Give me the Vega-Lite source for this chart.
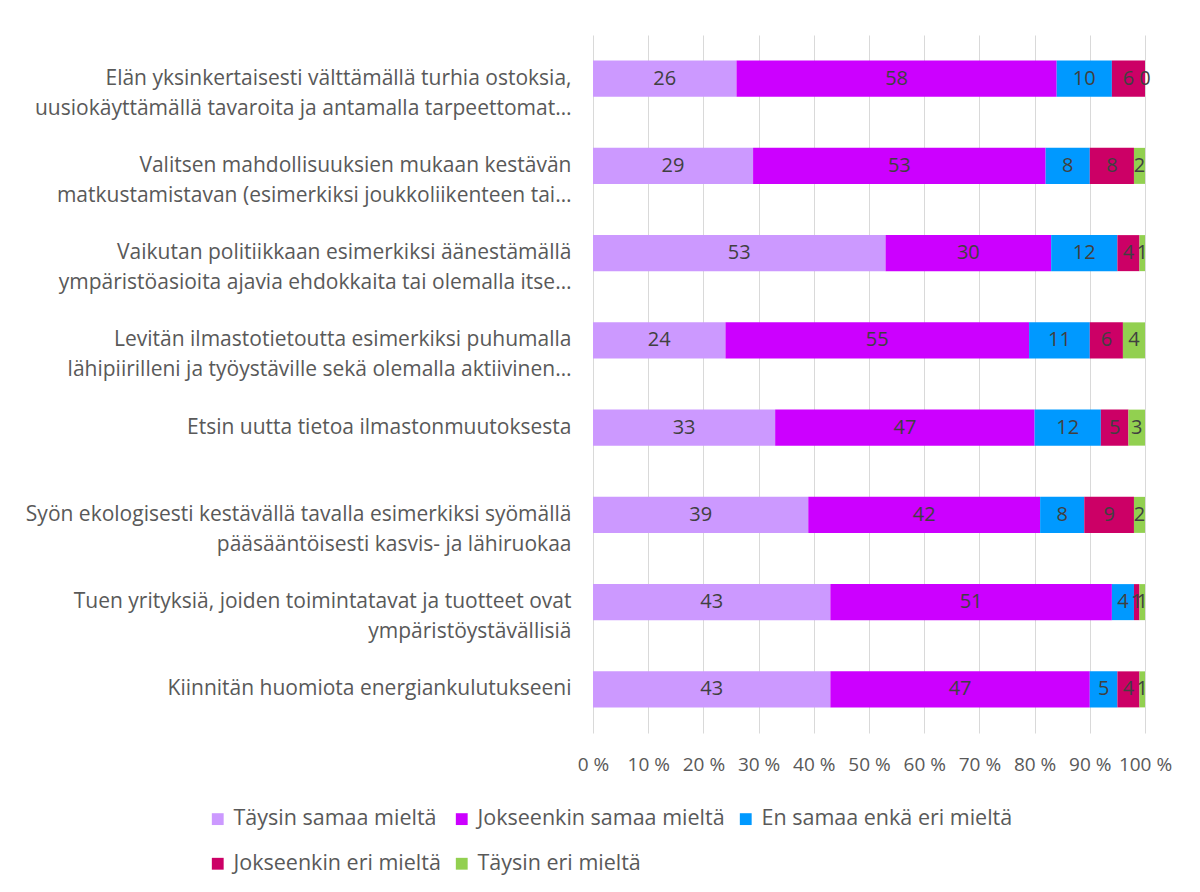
{
  "$schema": "https://vega.github.io/schema/vega-lite/v6.json",
  "width": 552,
  "height": 698,
  "autosize": {"type": "none"},
  "padding": {"left": 593, "top": 35, "right": 55, "bottom": 159},
  "background": "white",
  "config": {
    "font": "Open Sans",
    "view": {"stroke": null}
  },
  "data": {
    "values": [
      {"q": "Elän yksinkertaisesti välttämällä turhia ostoksia,\nuusiokäyttämällä tavaroita ja antamalla tarpeettomat…", "r": "Täysin samaa mieltä", "k": 1, "v": 26},
      {"q": "Elän yksinkertaisesti välttämällä turhia ostoksia,\nuusiokäyttämällä tavaroita ja antamalla tarpeettomat…", "r": "Jokseenkin samaa mieltä", "k": 2, "v": 58},
      {"q": "Elän yksinkertaisesti välttämällä turhia ostoksia,\nuusiokäyttämällä tavaroita ja antamalla tarpeettomat…", "r": "En samaa enkä eri mieltä", "k": 3, "v": 10},
      {"q": "Elän yksinkertaisesti välttämällä turhia ostoksia,\nuusiokäyttämällä tavaroita ja antamalla tarpeettomat…", "r": "Jokseenkin eri mieltä", "k": 4, "v": 6},
      {"q": "Elän yksinkertaisesti välttämällä turhia ostoksia,\nuusiokäyttämällä tavaroita ja antamalla tarpeettomat…", "r": "Täysin eri mieltä", "k": 5, "v": 0},
      {"q": "Valitsen mahdollisuuksien mukaan kestävän\nmatkustamistavan (esimerkiksi joukkoliikenteen tai…", "r": "Täysin samaa mieltä", "k": 1, "v": 29},
      {"q": "Valitsen mahdollisuuksien mukaan kestävän\nmatkustamistavan (esimerkiksi joukkoliikenteen tai…", "r": "Jokseenkin samaa mieltä", "k": 2, "v": 53},
      {"q": "Valitsen mahdollisuuksien mukaan kestävän\nmatkustamistavan (esimerkiksi joukkoliikenteen tai…", "r": "En samaa enkä eri mieltä", "k": 3, "v": 8},
      {"q": "Valitsen mahdollisuuksien mukaan kestävän\nmatkustamistavan (esimerkiksi joukkoliikenteen tai…", "r": "Jokseenkin eri mieltä", "k": 4, "v": 8},
      {"q": "Valitsen mahdollisuuksien mukaan kestävän\nmatkustamistavan (esimerkiksi joukkoliikenteen tai…", "r": "Täysin eri mieltä", "k": 5, "v": 2},
      {"q": "Vaikutan politiikkaan esimerkiksi äänestämällä\nympäristöasioita ajavia ehdokkaita tai olemalla itse…", "r": "Täysin samaa mieltä", "k": 1, "v": 53},
      {"q": "Vaikutan politiikkaan esimerkiksi äänestämällä\nympäristöasioita ajavia ehdokkaita tai olemalla itse…", "r": "Jokseenkin samaa mieltä", "k": 2, "v": 30},
      {"q": "Vaikutan politiikkaan esimerkiksi äänestämällä\nympäristöasioita ajavia ehdokkaita tai olemalla itse…", "r": "En samaa enkä eri mieltä", "k": 3, "v": 12},
      {"q": "Vaikutan politiikkaan esimerkiksi äänestämällä\nympäristöasioita ajavia ehdokkaita tai olemalla itse…", "r": "Jokseenkin eri mieltä", "k": 4, "v": 4},
      {"q": "Vaikutan politiikkaan esimerkiksi äänestämällä\nympäristöasioita ajavia ehdokkaita tai olemalla itse…", "r": "Täysin eri mieltä", "k": 5, "v": 1},
      {"q": "Levitän ilmastotietoutta esimerkiksi puhumalla\nlähipiirilleni ja työystäville sekä olemalla aktiivinen…", "r": "Täysin samaa mieltä", "k": 1, "v": 24},
      {"q": "Levitän ilmastotietoutta esimerkiksi puhumalla\nlähipiirilleni ja työystäville sekä olemalla aktiivinen…", "r": "Jokseenkin samaa mieltä", "k": 2, "v": 55},
      {"q": "Levitän ilmastotietoutta esimerkiksi puhumalla\nlähipiirilleni ja työystäville sekä olemalla aktiivinen…", "r": "En samaa enkä eri mieltä", "k": 3, "v": 11},
      {"q": "Levitän ilmastotietoutta esimerkiksi puhumalla\nlähipiirilleni ja työystäville sekä olemalla aktiivinen…", "r": "Jokseenkin eri mieltä", "k": 4, "v": 6},
      {"q": "Levitän ilmastotietoutta esimerkiksi puhumalla\nlähipiirilleni ja työystäville sekä olemalla aktiivinen…", "r": "Täysin eri mieltä", "k": 5, "v": 4},
      {"q": "Etsin uutta tietoa ilmastonmuutoksesta", "r": "Täysin samaa mieltä", "k": 1, "v": 33},
      {"q": "Etsin uutta tietoa ilmastonmuutoksesta", "r": "Jokseenkin samaa mieltä", "k": 2, "v": 47},
      {"q": "Etsin uutta tietoa ilmastonmuutoksesta", "r": "En samaa enkä eri mieltä", "k": 3, "v": 12},
      {"q": "Etsin uutta tietoa ilmastonmuutoksesta", "r": "Jokseenkin eri mieltä", "k": 4, "v": 5},
      {"q": "Etsin uutta tietoa ilmastonmuutoksesta", "r": "Täysin eri mieltä", "k": 5, "v": 3},
      {"q": "Syön ekologisesti kestävällä tavalla esimerkiksi syömällä\npääsääntöisesti kasvis- ja lähiruokaa", "r": "Täysin samaa mieltä", "k": 1, "v": 39},
      {"q": "Syön ekologisesti kestävällä tavalla esimerkiksi syömällä\npääsääntöisesti kasvis- ja lähiruokaa", "r": "Jokseenkin samaa mieltä", "k": 2, "v": 42},
      {"q": "Syön ekologisesti kestävällä tavalla esimerkiksi syömällä\npääsääntöisesti kasvis- ja lähiruokaa", "r": "En samaa enkä eri mieltä", "k": 3, "v": 8},
      {"q": "Syön ekologisesti kestävällä tavalla esimerkiksi syömällä\npääsääntöisesti kasvis- ja lähiruokaa", "r": "Jokseenkin eri mieltä", "k": 4, "v": 9},
      {"q": "Syön ekologisesti kestävällä tavalla esimerkiksi syömällä\npääsääntöisesti kasvis- ja lähiruokaa", "r": "Täysin eri mieltä", "k": 5, "v": 2},
      {"q": "Tuen yrityksiä, joiden toimintatavat ja tuotteet ovat\nympäristöystävällisiä", "r": "Täysin samaa mieltä", "k": 1, "v": 43},
      {"q": "Tuen yrityksiä, joiden toimintatavat ja tuotteet ovat\nympäristöystävällisiä", "r": "Jokseenkin samaa mieltä", "k": 2, "v": 51},
      {"q": "Tuen yrityksiä, joiden toimintatavat ja tuotteet ovat\nympäristöystävällisiä", "r": "En samaa enkä eri mieltä", "k": 3, "v": 4},
      {"q": "Tuen yrityksiä, joiden toimintatavat ja tuotteet ovat\nympäristöystävällisiä", "r": "Jokseenkin eri mieltä", "k": 4, "v": 1},
      {"q": "Tuen yrityksiä, joiden toimintatavat ja tuotteet ovat\nympäristöystävällisiä", "r": "Täysin eri mieltä", "k": 5, "v": 1},
      {"q": "Kiinnitän huomiota energiankulutukseeni", "r": "Täysin samaa mieltä", "k": 1, "v": 43},
      {"q": "Kiinnitän huomiota energiankulutukseeni", "r": "Jokseenkin samaa mieltä", "k": 2, "v": 47},
      {"q": "Kiinnitän huomiota energiankulutukseeni", "r": "En samaa enkä eri mieltä", "k": 3, "v": 5},
      {"q": "Kiinnitän huomiota energiankulutukseeni", "r": "Jokseenkin eri mieltä", "k": 4, "v": 4},
      {"q": "Kiinnitän huomiota energiankulutukseeni", "r": "Täysin eri mieltä", "k": 5, "v": 1}
    ]
  },
  "encoding": {
    "y": {
      "field": "q",
      "type": "nominal",
      "sort": null,
      "title": null,
      "scale": {"paddingInner": 0.587, "paddingOuter": 0.2935},
      "axis": {
        "domain": false,
        "ticks": false,
        "labelPadding": 22,
        "labelAlign": "right",
        "labelBaseline": "middle",
        "labelLimit": 600,
        "labelFontSize": 21,
        "labelLineHeight": 30,
        "labelColor": "#595959",
        "labelExpr": "split(datum.label, '\\n')"
      }
    },
    "x": {
      "field": "v",
      "type": "quantitative",
      "stack": "normalize",
      "title": null,
      "scale": {"domain": [0, 1], "nice": false},
      "axis": {
        "values": [0, 0.1, 0.2, 0.3, 0.4, 0.5, 0.6, 0.7, 0.8, 0.9, 1],
        "domain": false,
        "ticks": false,
        "grid": true,
        "gridColor": "#d9d9d9",
        "gridWidth": 1,
        "labelPadding": 22,
        "labelFontSize": 19,
        "labelColor": "#595959",
        "labelFlush": false,
        "labelExpr": "format(datum.value * 100, 'd') + ' %'"
      }
    },
    "order": {"field": "k", "type": "quantitative", "sort": "ascending"}
  },
  "layer": [
    {
      "mark": {"type": "bar"},
      "encoding": {
        "color": {
          "field": "r",
          "type": "nominal",
          "scale": {
            "domain": ["Täysin samaa mieltä", "Jokseenkin samaa mieltä", "En samaa enkä eri mieltä", "Jokseenkin eri mieltä", "Täysin eri mieltä"],
            "range": ["#CC99FF", "#CC00FF", "#0099FF", "#CC0066", "#92D050"]
          },
          "legend": {
            "title": null,
            "orient": "none",
            "legendX": -386,
            "legendY": 773,
            "direction": "horizontal",
            "columns": 3,
            "gridAlign": "each",
            "columnPadding": 10,
            "rowPadding": 22,
            "symbolType": "square",
            "symbolSize": 140,
            "symbolStrokeWidth": 0,
            "symbolOpacity": 1,
            "labelFontSize": 21.5,
            "labelColor": "#595959",
            "labelOffset": 5,
            "labelLimit": 400
          }
        }
      }
    },
    {
      "mark": {"type": "text", "fontSize": 20, "color": "#404040", "baseline": "middle", "align": "center"},
      "encoding": {
        "x": {"field": "v", "type": "quantitative", "stack": "normalize", "bandPosition": 0.5},
        "text": {"field": "v", "type": "quantitative"},
        "detail": {"field": "r", "type": "nominal"}
      }
    }
  ]
}
